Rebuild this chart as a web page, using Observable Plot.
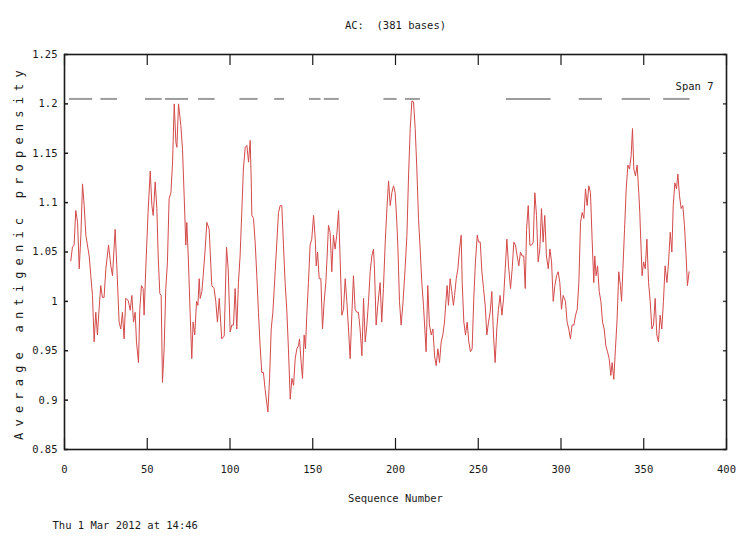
<!DOCTYPE html>
<html><head><meta charset="utf-8">
<script src="https://cdn.jsdelivr.net/npm/d3@7"></script>
<script src="https://cdn.jsdelivr.net/npm/@observablehq/plot@0.6"></script>
<style>
html,body{margin:0;padding:0;background:#fff;}
svg{display:block;}
svg text{white-space:pre;}
</style></head><body><div id="chart"></div>
<script>
const titleText = "AC:  (381 bases)";
const xLabel = "Sequence Number";
const yLabel = "Average antigenic propensity";
const spanLabel = "Span 7";
const footerText = "Thu 1 Mar 2012 at 14:46";

const xTicks = [0, 50, 100, 150, 200, 250, 300, 350, 400];
const xTickLabels = ["0", "50", "100", "150", "200", "250", "300", "350", "400"];
const yTicks = [0.85, 0.9, 0.95, 1, 1.05, 1.1, 1.15, 1.2, 1.25];
const yTickLabels = ["0.85", "0.9", "0.95", "1", "1.05", "1.1", "1.15", "1.2", "1.25"];

// antigenic regions (start, end) drawn at the region level
const regionStart = [3, 22, 49, 61, 81, 106, 127, 148, 157, 193, 206, 267, 311, 337, 362];
const regionEnd   = [17, 32, 59, 75, 91, 117, 133, 155, 166, 201, 215, 294, 325, 354, 378];
const regionLevel = 1.205;

// [sequence position, average antigenic propensity]
const profile = [
[3.8,1.041],[4.8,1.055],[5.8,1.057],[6.8,1.092],[7.9,1.080],[8.9,1.033],[9.9,1.067],[10.9,1.119],[11.9,1.097],[12.9,1.067],
[14.9,1.046],[15.9,1.026],[16.9,1.006],[17.9,0.959],[18.9,0.989],[19.9,0.966],[20.9,0.992],[21.9,1.016],[22.9,1.004],[23.9,1.004],
[25.0,1.033],[26.6,1.057],[28.0,1.036],[29.0,1.026],[30.6,1.073],[31.6,1.036],[33.0,0.979],[34.0,0.972],[35.0,0.989],[36.0,0.962],
[37.0,1.003],[38.5,1.001],[39.7,0.991],[40.7,1.006],[41.7,0.979],[42.7,0.989],[43.5,0.959],[44.7,0.938],[45.5,0.992],[46.5,1.016],
[47.5,1.013],[48.1,0.986],[49.1,1.033],[50.5,1.090],[51.8,1.132],[52.8,1.097],[53.6,1.087],[54.8,1.121],[55.8,1.094],[56.6,1.046],
[57.6,1.008],[58.4,1.006],[59.2,0.918],[60.2,0.952],[61.2,1.013],[62.2,1.040],[63.2,1.104],[64.3,1.110],[65.3,1.141],[66.3,1.200],
[67.3,1.161],[67.9,1.156],[68.9,1.200],[70.3,1.178],[71.3,1.154],[72.3,1.107],[73.3,1.057],[73.9,1.080],[74.9,1.040],[75.9,0.989],
[76.9,0.942],[77.7,0.979],[78.7,0.966],[79.8,1.000],[80.6,0.996],[81.4,1.023],[82.0,1.003],[83.0,1.010],[83.8,1.026],[85.0,1.053],
[86.0,1.080],[87.4,1.073],[89.0,1.016],[90.4,1.013],[91.4,1.000],[92.4,0.979],[93.5,1.003],[95.0,0.962],[96.5,0.965],[97.9,1.055],
[98.9,1.033],
[100.1,0.969],[101.1,0.976],[102.1,0.976],[103.1,1.013],[104.1,0.972],[105.1,1.019],[106.1,1.046],[107.1,1.090],[108.1,1.134],[109.2,1.156],
[110.2,1.158],[111.2,1.141],[112.2,1.163],[112.8,1.124],[113.2,1.087],[114.2,1.084],[115.2,1.060],[116.2,1.026],[117.2,0.989],[118.2,0.955],
[119.2,0.928],[120.2,0.928],[121.2,0.911],[122.9,0.888],[123.9,0.922],[124.9,0.972],[125.9,0.989],[127.3,1.030],[128.3,1.060],[129.3,1.090],
[130.3,1.097],[131.3,1.097],[132.3,1.057],[133.3,1.019],[134.3,0.992],[135.3,0.952],[136.4,0.901],[137.4,0.922],[138.4,0.915],[139.4,0.942],
[140.4,0.952],[141.4,0.955],[142.0,0.962],[143.0,0.938],[143.8,0.922],[144.8,0.966],[145.6,0.952],[146.4,0.986],[147.4,1.019],[148.4,1.057],
[149.4,1.063],[150.5,1.087],[151.5,1.063],[152.1,1.036],[152.9,1.050],[153.9,1.023],[154.9,1.023],[155.9,0.972],[156.9,1.000],[157.9,1.019],
[158.7,1.046],[159.5,1.077],[160.5,1.070],[161.5,1.030],[162.5,1.067],[163.5,1.053],[164.5,1.067],[165.6,1.092],[166.6,1.040],[167.6,0.986],
[168.6,0.992],[169.6,1.023],[170.6,1.000],[171.6,0.972],[172.6,0.942],[173.6,0.986],[174.6,1.026],[175.6,0.992],[176.6,0.989],[177.6,0.989],
[178.6,0.972],[179.7,0.945],[180.7,1.003],[181.7,0.959],[182.7,0.976],[183.7,1.000],[184.7,1.030],[185.7,1.046],[186.7,1.053],[187.3,1.033],
[188.3,0.976],[189.3,0.996],[190.7,1.019],[191.7,0.979],[192.7,1.013],[193.8,1.060],[194.8,1.094],[195.8,1.122],[196.8,1.097],[197.8,1.110],
[198.8,1.117],[199.8,1.110],[200.8,1.080],
[201.4,1.057],[202.4,1.000],[203.4,0.976],[204.4,0.996],[205.8,1.033],[206.9,1.067],[207.9,1.128],[208.9,1.175],[209.9,1.203],[210.9,1.202],
[211.9,1.175],[212.9,1.134],[213.9,1.084],[214.9,1.053],[215.9,1.019],[216.9,0.996],[218.5,0.949],[219.5,1.016],[220.5,0.976],[221.6,0.966],
[222.6,0.972],[223.6,0.945],[224.6,0.935],[225.6,0.952],[226.6,0.938],[227.6,0.959],[228.6,0.966],[229.6,0.979],[230.6,1.003],[231.2,1.016],
[232.0,0.996],[233.0,1.023],[234.0,1.010],[235.0,0.996],[235.7,1.006],[236.7,1.023],[237.7,1.033],[238.7,1.053],[239.7,1.067],[240.3,1.019],
[241.3,0.979],[242.3,0.966],[243.3,0.979],[244.3,0.959],[245.3,0.949],[246.3,0.952],[247.3,1.003],[248.3,1.040],[249.4,1.067],[250.2,1.060],
[251.2,1.060],[252.2,1.030],[253.2,1.013],[254.2,0.996],[255.2,0.966],[256.2,0.979],[257.2,0.989],[258.2,1.010],[259.2,0.966],[260.2,0.938],
[261.2,0.972],[262.2,0.992],[263.2,1.006],[264.3,0.986],[265.3,1.003],[266.3,1.033],[267.3,1.063],[268.3,1.036],[269.5,1.013],[270.5,1.033],
[271.5,1.060],[272.5,1.057],[273.5,1.046],[274.5,1.036],[275.5,1.050],[276.5,1.046],[277.5,1.046],[278.4,1.013],[279.2,1.073],[280.2,1.097],
[281.2,1.057],[282.2,1.057],[283.2,1.060],[284.2,1.110],[285.2,1.087],[286.2,1.040],[287.2,1.053],[288.2,1.094],[289.2,1.060],[290.2,1.087],
[291.2,1.046],[292.3,1.033],[293.3,1.053],[294.3,1.040],[295.3,1.000],[296.3,1.016],[297.3,1.026],[298.3,1.030],[299.3,1.019],[300.3,0.992],
[301.3,1.006],[302.7,1.000],
[303.7,0.979],[304.7,0.972],[305.7,0.962],[306.7,0.976],[307.8,0.976],[308.8,0.986],[309.8,0.992],[310.8,1.019],[311.8,1.080],[312.8,1.090],
[313.8,1.084],[314.8,1.114],[315.8,1.097],[316.8,1.117],[317.8,1.110],[318.8,1.063],[319.8,1.019],[320.4,1.046],[321.2,1.026],[322.1,1.036],
[323.1,1.010],[324.1,1.000],[325.1,0.979],[326.1,0.972],[327.1,0.955],[328.1,0.949],[329.1,0.942],[330.1,0.925],[330.9,0.938],[331.9,0.921],
[332.9,0.952],[333.9,0.982],[334.9,1.030],[335.9,1.016],[336.6,1.000],[337.4,1.033],[338.4,1.073],[339.4,1.114],[340.4,1.138],[341.4,1.134],
[342.4,1.148],[343.2,1.175],[344.0,1.134],[345.0,1.127],[346.0,1.138],[347.0,1.110],[347.6,1.090],[348.4,1.053],[349.0,1.026],[349.9,1.040],
[350.9,1.033],[351.9,1.063],[352.9,1.019],[353.9,1.000],[354.9,0.972],[355.9,0.976],[356.9,1.003],[357.9,0.966],[358.9,0.959],[359.9,0.986],
[360.9,0.972],[361.9,1.000],[362.9,1.036],[364.0,1.019],[365.0,1.040],[366.0,1.070],[367.0,1.050],[367.8,1.097],[368.8,1.120],[369.8,1.114],
[370.6,1.129],[371.6,1.107],[372.6,1.094],[373.6,1.097],[374.6,1.077],[375.6,1.046],[376.4,1.016],[377.4,1.030]
];

const points = profile.map(([pos, score]) => ({pos, score}));
const regions = regionStart.map((s, i) => ({start: s, end: regionEnd[i]}));

const FONT = "'DejaVu Sans Mono', 'Liberation Mono', monospace";
const INK = "#1a1a1a";

const chart = Plot.plot({
  width: 742,
  height: 540,
  marginLeft: 64,
  marginRight: 16,
  marginTop: 54,
  marginBottom: 91,
  style: {fontFamily: FONT, fontSize: "10.5px", background: "#fff", color: INK},
  x: {domain: [0, 400]},
  y: {domain: [0.85, 1.25]},
  marks: [
    Plot.ruleY(regions, {x1: "start", x2: "end", y: () => regionLevel, stroke: "#9c9c9c", strokeWidth: 2}),
    Plot.line(points, {x: "pos", y: "score", stroke: "#d44a4a", strokeWidth: 1}),
    // inward ticks along the frame
    Plot.tickX(xTicks, {x: d => d, insetTop: 384, stroke: INK, strokeWidth: 1.2}),
    Plot.tickX(xTicks, {x: d => d, insetBottom: 384, stroke: INK, strokeWidth: 1.2}),
    Plot.tickY(yTicks, {y: d => d, insetRight: 658, stroke: INK, strokeWidth: 1.5}),
    Plot.tickY(yTicks, {y: d => d, insetLeft: 659, stroke: "#444", strokeWidth: 1.5}),
    Plot.frame({stroke: INK, strokeWidth: 1.6}),
    Plot.axisX({ticks: xTicks, tickSize: 0, tickPadding: 16, label: null,
      tickFormat: d => xTickLabels[xTicks.indexOf(d)], fill: INK}),
    Plot.axisY({ticks: yTicks, tickSize: 0, tickPadding: 7, label: null,
      tickFormat: d => yTickLabels[yTicks.findIndex(t => Math.abs(t - d) < 1e-9)], fill: INK}),
    Plot.text([titleText], {text: d => d, frameAnchor: "top", dy: -33, fill: INK}),
    Plot.text([xLabel], {text: d => d, frameAnchor: "bottom", dy: 52, fill: INK}),
    Plot.text([footerText], {text: d => d, frameAnchor: "bottom-left", dx: -12, dy: 79, textAnchor: "start", fill: INK}),
    Plot.text([spanLabel], {text: d => d, frameAnchor: "top-right", dx: -13, dy: 28, textAnchor: "end", fill: INK}),
    Plot.text([yLabel], {text: d => d, frameAnchor: "left", textAnchor: "middle", rotate: -90, dx: -45, dy: 0, fontSize: 12, fill: INK})
  ]
});
// spread the y-axis title letters like the original's wide monospace lettering
d3.select(chart).selectAll("text")
  .filter(function () { return this.textContent === yLabel; })
  .style("letter-spacing", "6.2px");
document.getElementById("chart").append(chart);
</script>
</body></html>
